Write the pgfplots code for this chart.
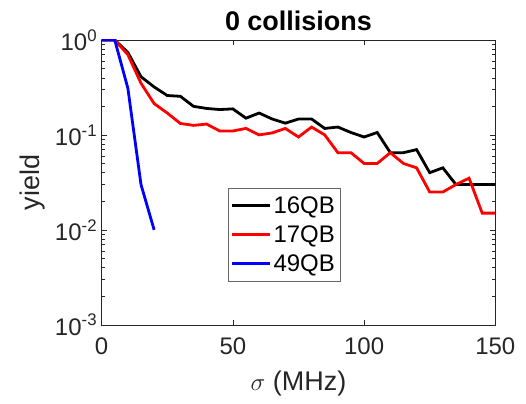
\documentclass[border=0pt]{standalone}
\usepackage{pgfplots}
\pgfplotsset{compat=1.18}
\usepackage{fontspec}
\setmainfont{Liberation Sans}
\definecolor{axgray}{RGB}{38,38,38}
\definecolor{qred}{RGB}{255,0,0}
\definecolor{qblue}{RGB}{0,0,255}

\begin{document}
\begin{tikzpicture}
\begin{axis}[
  scale only axis,
  width=394pt, height=285pt,
  ymode=log,
  xmin=0, xmax=150,
  ymin=0.001, ymax=1,
  xtick={0,50,100,150},
  ytick={0.001,0.01,0.1,1},
  yticklabels={10\textsuperscript{-3},10\textsuperscript{-2},10\textsuperscript{-1},10\textsuperscript{0}},
  /pgf/number format/assume math mode=true,
  tick label style={font=\fontsize{24}{28}\selectfont, text=axgray},
  xticklabel style={yshift=-9pt},
  yticklabel style={xshift=-1pt},
  label style={font=\fontsize{27}{32}\selectfont, text=axgray},
  xlabel={$\sigma$ (MHz)},
  ylabel={yield},
  xlabel style={yshift=-10pt},
  ylabel style={yshift=3pt},
  title={\textbf{0 collisions}},
  title style={font=\fontsize{27}{32}\selectfont},
  axis line style={axgray},
  every tick/.style={axgray},
  major tick length=5pt,
  minor tick length=3pt,
  legend style={at={(0.32,0.48)}, anchor=north west, draw=gray!80!black,
    font=\fontsize{24}{28}\selectfont, row sep=7pt, inner xsep=3pt, inner ysep=6pt},
  legend cell align=left,
  legend image code/.code={\draw[#1] (0cm,0cm) -- (38pt,0cm);},
]
\addplot[draw=black, line width=2.8pt] coordinates {
 (0,1) (5,1) (10,0.74) (15,0.41) (20,0.32) (25,0.26) (30,0.255) (35,0.2)
 (40,0.19) (45,0.185) (50,0.188) (55,0.15) (60,0.17) (65,0.147) (70,0.133)
 (75,0.147) (80,0.147) (85,0.117) (90,0.121) (95,0.106) (100,0.095) (105,0.106)
 (110,0.065) (115,0.065) (120,0.07) (125,0.04) (130,0.045) (135,0.03)
 (140,0.03) (145,0.03) (150,0.03)
};
\addlegendentry{16QB}
\addplot[draw=qred, line width=2.8pt] coordinates {
 (0,1) (5,1) (10,0.7) (15,0.35) (20,0.214) (25,0.17) (30,0.132) (35,0.126)
 (40,0.13) (45,0.11) (50,0.11) (55,0.117) (60,0.1) (65,0.105) (70,0.117)
 (75,0.095) (80,0.121) (85,0.1) (90,0.065) (95,0.065) (100,0.05) (105,0.05)
 (110,0.065) (115,0.05) (120,0.045) (125,0.025) (130,0.025) (135,0.03)
 (140,0.035) (145,0.015) (150,0.015)
};
\addlegendentry{17QB}
\addplot[draw=qblue, line width=2.8pt] coordinates {
 (0,1) (5,1) (10,0.31) (15,0.03) (20,0.01)
};
\addlegendentry{49QB}
\end{axis}
\pgfresetboundingbox
\path[use as bounding box] ([shift={(-101.7pt,-79pt)}]current axis.south west) rectangle ([shift={(30.7pt,40pt)}]current axis.north east);
\end{tikzpicture}
\end{document}
